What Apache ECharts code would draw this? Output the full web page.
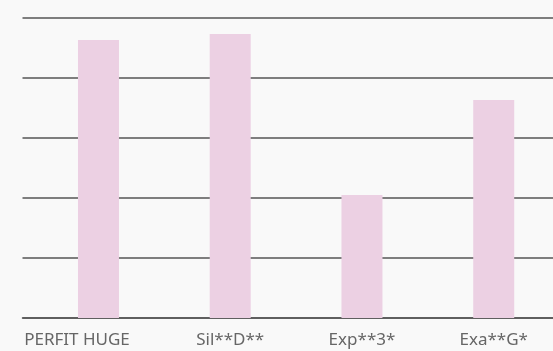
<!DOCTYPE html>
<html>
<head>
<meta charset="utf-8">
<script src="https://cdn.jsdelivr.net/npm/echarts@6/dist/echarts.min.js"></script>
<style>
  html, body { margin: 0; padding: 0; background: #f9f9f9; }
  #chart { width: 553px; height: 351px; }
</style>
</head>
<body>
<div id="chart"></div>
<script>
// Product names along the x axis
const categories = ['PERFIT HUGE', 'Sil**D**', 'Exp**3*', 'Exa**G*'];
// Bar heights on a 0–100 scale
const values = [92.7, 94.7, 41, 72.7];
// Value axis range and step
const yMin = 0;
const yMax = 100;
const yStep = 20;

const chart = echarts.init(document.getElementById('chart'), null, { renderer: 'canvas' });

const labelFont = '"Noto Sans", sans-serif';
const labelSize = 17;

chart.setOption({
  backgroundColor: '#f9f9f9',
  animation: false,
  grid: [
    // grid 0: horizontal rules across the full width
    { left: 22.5, right: 0, top: 18, bottom: 33 },
    // grid 1: the bars and category labels; runs slightly past the right edge
    { left: 32.6, width: 527, top: 18, bottom: 33, outerBoundsMode: 'none', containLabel: false }
  ],
  xAxis: [
    {
      gridIndex: 0,
      type: 'category',
      data: categories,
      axisLine: { show: true, lineStyle: { color: '#555', width: 1.5 } },
      axisTick: { show: false },
      axisLabel: { show: false }
    },
    {
      gridIndex: 1,
      type: 'category',
      data: categories,
      axisLine: { show: false },
      axisTick: { show: false },
      axisLabel: {
        interval: 0,
        hideOverlap: false,
        color: '#666',
        fontFamily: labelFont,
        fontSize: labelSize,
        lineHeight: 18,
        margin: 13,
        formatter: (v, i) => (i === 0 ? '{first|' + v + '}' : v),
        rich: {
          first: {
            color: '#666',
            fontFamily: labelFont,
            fontSize: labelSize,
            lineHeight: 18,
            padding: [0, 43, 0, 0]
          }
        }
      }
    }
  ],
  yAxis: [
    {
      gridIndex: 0,
      type: 'value',
      min: yMin,
      max: yMax,
      interval: yStep,
      axisLine: { show: false },
      axisTick: { show: false },
      axisLabel: { show: false },
      splitLine: { show: true, lineStyle: { color: '#555', width: 1.5 } }
    },
    {
      gridIndex: 1,
      type: 'value',
      min: yMin,
      max: yMax,
      interval: yStep,
      axisLine: { show: false },
      axisTick: { show: false },
      axisLabel: { show: false },
      splitLine: { show: false }
    }
  ],
  series: [
    {
      type: 'bar',
      xAxisIndex: 1,
      yAxisIndex: 1,
      data: values,
      barWidth: 41,
      z: 5,
      itemStyle: { color: '#ecd0e3' }
    }
  ]
});
</script>
</body>
</html>
